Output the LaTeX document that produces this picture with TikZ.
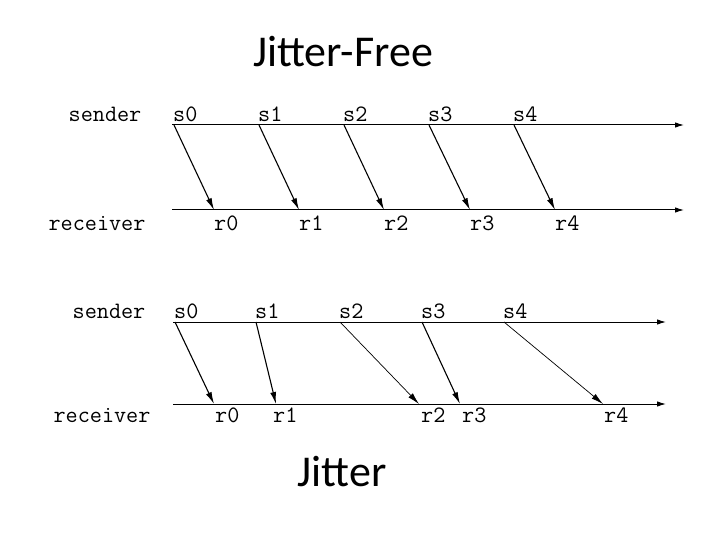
\documentclass[tikz,border=0pt]{standalone}
\usepackage{fontspec}
\setmainfont{Carlito}
\usetikzlibrary{arrows.meta}
\begin{document}
\begin{tikzpicture}[x=1pt,y=-1pt,
  lbl/.style={font=\ttfamily\fontsize{23.5}{23.5}\selectfont, inner sep=0pt},
  slbl/.style={lbl, anchor=base west},
  rlbl/.style={lbl, anchor=base west},
  axis/.style={line width=1pt, -{Latex[length=9pt,width=5.5pt]}},
  msg/.style={line width=1.1pt, -{Latex[length=12pt,width=6pt]}},
  thinmsg/.style={line width=0.7pt, -{Latex[length=12pt,width=6pt]}},
  title/.style={font=\fontsize{44}{44}\selectfont, inner sep=0pt, anchor=base}]
\useasboundingbox (0,0) rectangle (720,540);

% titles
\node[title] (t1) at (343,67) {Jitter-Free};
\node[title] (t2) at (342,486) {Jitter};

% ---------- top: jitter-free ----------
\node[lbl, anchor=base] (snd1) at (105,122) {sender};
\node[lbl, anchor=base] (rcv1) at (97,230) {receiver};
\coordinate (sa) at (172,125);
\coordinate (sb) at (684,125);
\coordinate (ra) at (172,210);
\coordinate (rb) at (684,210);
\draw[axis] (sa) -- (sb);
\draw[axis] (ra) -- (rb);

\foreach \i/\sx/\rx in {0/174/214, 1/259/299, 2/344/384, 3/429/470, 4/514/555}{
  \coordinate (ts\i) at (\sx,125);
  \coordinate (tr\i) at (\rx,210);
  \node[slbl] (tsl\i) at (\sx-1,122) {s\i};
  \node[rlbl] (trl\i) at (\rx,230) {r\i};
  \draw[msg] (ts\i) -- (tr\i);
}

% ---------- bottom: jitter ----------
\node[lbl, anchor=base] (snd2) at (109,318) {sender};
\node[lbl, anchor=base] (rcv2) at (102,422) {receiver};
\coordinate (sc) at (173,322);
\coordinate (sd) at (666,322);
\coordinate (rc) at (173,404);
\coordinate (rd) at (666,404);
\draw[axis] (sc) -- (sd);
\draw[axis] (rc) -- (rd);

\foreach \i/\sx/\rx/\lx/\st in {0/175/214/215/msg, 1/256/276/273/msg, 2/340/419/421/thinmsg, 3/422/460/462/msg, 4/504/603/604/thinmsg}{
  \coordinate (bs\i) at (\sx,322);
  \coordinate (br\i) at (\rx,404);
  \node[slbl] (bsl\i) at (\sx-1,318) {s\i};
  \node[rlbl] (brl\i) at (\lx,422) {r\i};
  \draw[\st] (bs\i) -- (br\i);
}
\end{tikzpicture}
\end{document}
